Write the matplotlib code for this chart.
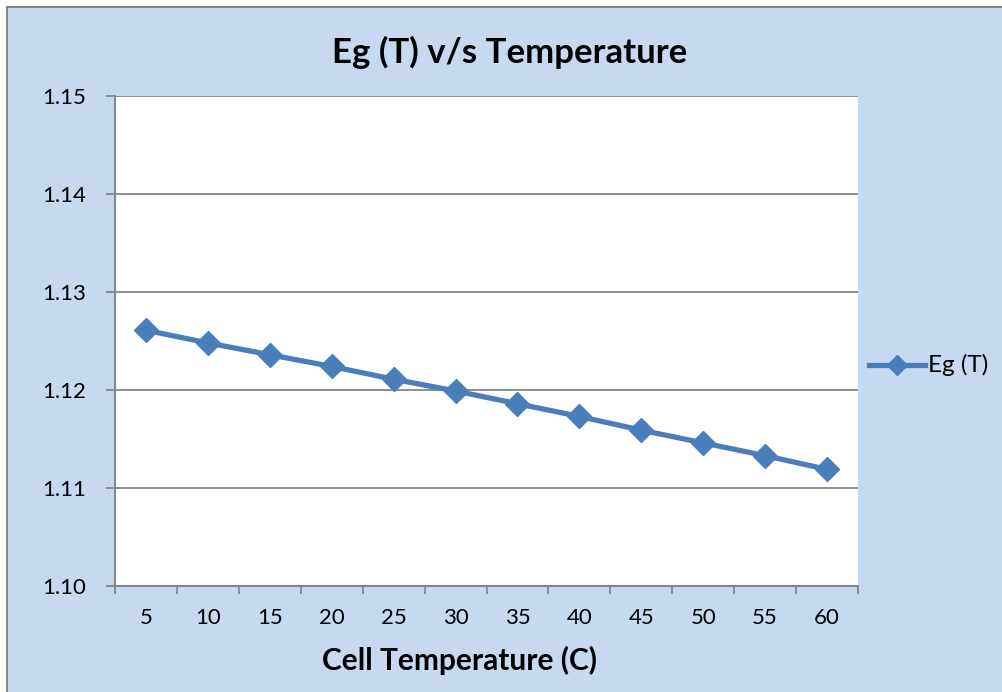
import matplotlib.pyplot as plt
from matplotlib.patches import Rectangle
from matplotlib.lines import Line2D

temps = [5, 10, 15, 20, 25, 30, 35, 40, 45, 50, 55, 60]
eg_t = [1.1261, 1.1248, 1.1236, 1.1224, 1.1211, 1.1199,
        1.1186, 1.1173, 1.1159, 1.1146, 1.1133, 1.1119]
y_ticks = [1.10, 1.11, 1.12, 1.13, 1.14, 1.15]

plt.rcParams['font.family'] = ['Lato', 'DejaVu Sans']

line_color = '#4A7EBB'
bg_color = '#C6D9F1'
grid_color = '#868686'

fig = plt.figure(figsize=(10.02, 6.92), dpi=100)
fig.patch.set_facecolor('white')

# chart area box (runs off the right and bottom edge)
fig.patches.append(Rectangle((7 / 1002, -0.1), 1.1, 1 - 7 / 692 + 0.1,
                             transform=fig.transFigure, facecolor=bg_color,
                             edgecolor=grid_color, linewidth=1.5, zorder=-5))

ax = fig.add_axes([115 / 1002, 1 - 586 / 692, (858 - 115) / 1002, (586 - 96) / 692])
ax.set_facecolor('white')

xs = list(range(len(temps)))
ax.plot(xs, eg_t, color=line_color, linewidth=3.8, marker='D', markersize=12,
        zorder=3, clip_on=False)

ax.set_xlim(-0.5, len(temps) - 0.5)
ax.set_ylim(y_ticks[0], y_ticks[-1])
ax.set_yticks(y_ticks)
ax.set_yticklabels(['%.2f' % v for v in y_ticks])
ax.yaxis.grid(True, color=grid_color, linewidth=1.3)
ax.set_axisbelow(True)

# category ticks sit between the labels
ax.set_xticks([i - 0.5 for i in range(len(temps) + 1)])
ax.set_xticklabels([])
ax.set_xticks(xs, minor=True)
ax.set_xticklabels([str(t) for t in temps], minor=True)
ax.tick_params(axis='x', which='major', length=6, color=grid_color, width=1.3, direction='out')
ax.tick_params(axis='x', which='minor', length=0, labelsize=16, pad=16)
ax.tick_params(axis='y', length=6.5, color=grid_color, width=1.3, labelsize=16, pad=14)

for side in ['top', 'right']:
    ax.spines[side].set_visible(False)
for side in ['left', 'bottom']:
    ax.spines[side].set_color(grid_color)
    ax.spines[side].set_linewidth(1.5)

fig.text(510 / 1002, 1 - 52 / 692, 'Eg (T) v/s Temperature', ha='center', va='center',
         fontsize=25, fontweight='bold')
fig.text(459 / 1002, 1 - 660 / 692, 'Cell Temperature (C)', ha='center', va='center',
         fontsize=21.5, fontweight='bold')

# legend entry
fig.lines.append(Line2D([869 / 1002, 925 / 1002], [1 - 365 / 692] * 2,
                        transform=fig.transFigure, color=line_color, linewidth=3.8))
fig.lines.append(Line2D([897 / 1002], [1 - 365 / 692], transform=fig.transFigure,
                        color=line_color, marker='D', markersize=10))
fig.text(928 / 1002, 1 - 365 / 692, 'Eg (T)', ha='left', va='center', fontsize=17.5)

fig.savefig('out.png', dpi=100, facecolor=fig.get_facecolor())
